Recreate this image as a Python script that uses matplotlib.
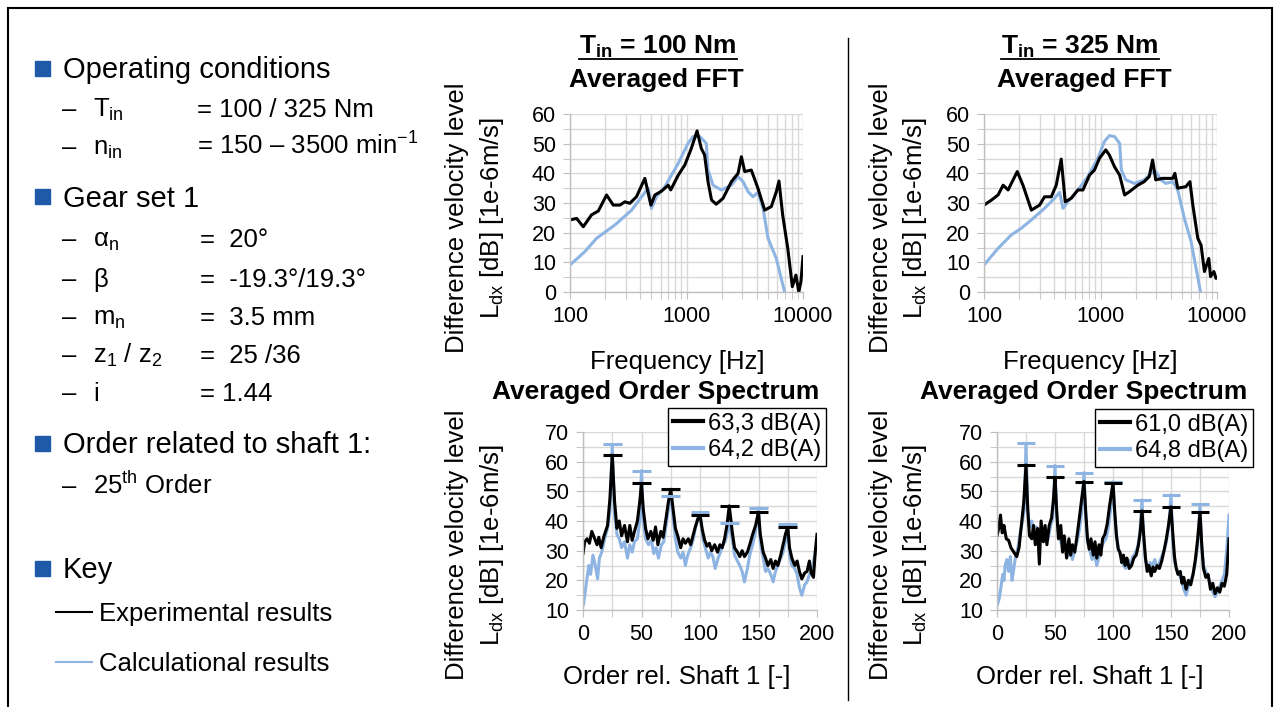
import matplotlib.pyplot as plt
from matplotlib.lines import Line2D
from matplotlib.patches import Rectangle
from matplotlib.ticker import FixedLocator, MultipleLocator, NullFormatter
import numpy as np

plt.rcParams['font.family'] = ['Liberation Sans', 'DejaVu Sans']
plt.rcParams['mathtext.fontset'] = 'custom'
plt.rcParams['mathtext.rm'] = 'Liberation Sans'
plt.rcParams['mathtext.it'] = 'Liberation Sans:italic'
plt.rcParams['mathtext.bf'] = 'Liberation Sans:bold'

# ---- data ----
# averaged FFT, T_in = 100 Nm
fft100_exp_f = [100, 114, 130, 153, 175, 206, 235, 268, 296, 326, 372, 439, 495, 535, 610, 697, 732, 850, 967,
                1100, 1232, 1340, 1430, 1530, 1640, 1800, 2060, 2430, 2770, 2960, 3160, 3600, 4100, 4690, 5350,
                5900, 6220, 6690, 7400, 8100, 8700, 9200, 9600, 10000]
fft100_exp_L = [24.3, 24.8, 22, 26, 27.3, 32.7, 29.3, 29.3, 30.4, 29.9, 32.1, 38.3, 29.3, 32.7, 34, 36, 34.4, 39.4,
                42.8, 48.4, 54.3, 48.4, 46.2, 37.2, 31, 29.6, 31.6, 37.2, 40, 45.6, 40.6, 41.1, 35, 27.6, 28.8,
                33.8, 37.4, 26, 14.7, 1.8, 5.7, 0, 3.5, 11.9]
fft100_calc_f = [100, 134, 169, 243, 338, 412, 469, 500, 552, 652, 850, 1030, 1140, 1300, 1480, 1530, 1690, 1990,
                 2430, 2770, 3060, 3380, 3720, 4100, 4540, 5010, 5900, 6950]
fft100_calc_L = [9.1, 13.6, 18.1, 22.6, 27.6, 32.1, 35, 28.2, 32.1, 35.5, 43.4, 50.1, 52.4, 52.4, 50.1, 41.1, 36,
                 34.4, 36, 38.9, 37.2, 33.8, 32.1, 33.6, 28.2, 18.1, 11.3, 0]

# averaged FFT, T_in = 325 Nm
fft325_exp_f = [100, 116, 132, 146, 161, 193, 216, 255, 300, 331, 378, 417, 460, 498, 561, 640, 707, 805, 887, 981,
                1110, 1190, 1320, 1460, 1610, 1770, 2090, 2370, 2620, 2800, 2980, 3400, 3770, 4170, 4350, 4600,
                5400, 5860, 6200, 6840, 7300, 7800, 8500, 8800, 9400, 9800, 10000]
fft325_exp_L = [29.3, 31, 32.7, 36, 34.4, 40.6, 36, 27.6, 29.3, 32.1, 32.1, 36, 44.8, 30.4, 31.6, 34.4, 34.4, 39.4,
                41.1, 45.1, 47.9, 46.2, 42.2, 39.4, 32.7, 33.8, 36, 37.2, 38.9, 44.5, 37.8, 38.3, 38.3, 38.3, 40,
                35, 35.5, 37.2, 29.3, 18.1, 15.8, 6.9, 11.3, 5.2, 6.9, 4.6, 4.8]
fft325_calc_f = [100, 132, 171, 209, 255, 331, 403, 446, 476, 525, 640, 780, 949, 1080, 1190, 1320, 1460, 1510,
                 1650, 1950, 2370, 2720, 2980, 3300, 3640, 4170, 4600, 5250, 5990, 7220]
fft325_calc_L = [9.1, 14.7, 19.2, 21.5, 24.3, 28.2, 31.6, 33.6, 28.2, 30.4, 34.4, 38.9, 45.1, 50.7, 52.7, 52.4,
                 50.1, 41.1, 37.8, 36.6, 37.8, 40, 40.6, 37.8, 36.6, 37.2, 34.4, 24.8, 17, 0]

# averaged order spectrum, T_in = 100 Nm
ord100_exp_o = [0, 1.5, 3.5, 5.5, 7.5, 10, 12, 13.5, 15.5, 18, 21, 23, 25, 27, 29, 31, 33, 35.5, 38, 40, 42, 44,
                46.5, 48.5, 50, 51.5, 53.5, 55.5, 58, 60, 62, 64, 66.5, 68.5, 71, 73, 75, 77, 79, 81, 83.5, 85.5,
                87.5, 90, 92, 94, 96, 98, 100, 102, 104, 106, 108, 110, 112.5, 115, 117, 119, 121, 123, 125,
                127.5, 129.5, 132, 134, 136, 138, 140.5, 142.5, 145, 147.5, 150, 151.5, 154, 156, 158, 160.5,
                162.5, 164.5, 166.5, 169, 171, 173, 175, 176.5, 178.5, 181, 183, 185, 187, 189.5, 191.5, 193.5,
                195, 197, 198.5, 200]
ord100_exp_L = [29, 33, 34, 32.5, 36.5, 34, 32, 34.5, 31, 35, 38.5, 47.5, 62.2, 46.5, 37.5, 40, 35, 38.5, 33, 38.5,
                33.5, 36.5, 40, 46.5, 52.7, 44, 37.5, 34, 36.5, 33.5, 38, 32, 36.5, 34.5, 41, 46.5, 50.7, 44, 37.5,
                35, 31, 34, 32.5, 34, 32, 35, 38, 40.5, 42, 37, 33.5, 31.5, 32.5, 30, 32, 29.5, 32, 31, 34, 38.5,
                45.1, 36.5, 31, 29.5, 28, 30, 28, 29.5, 32, 35.5, 38.5, 42.9, 35.5, 29.5, 27.5, 25, 27, 24, 26.5,
                25, 28.5, 32, 35.5, 38.1, 31, 27.5, 25, 26.5, 23, 20.5, 22.5, 23, 26.5, 22.5, 21, 29.5, 35.5]
ord100_calc_o = [0.5, 3, 5, 6.5, 8.5, 10.5, 12.5, 14, 16, 18.5, 21, 23, 25, 27, 29, 31, 33, 35.5, 38, 40, 42, 44,
                 46.5, 48.5, 50, 51.5, 53.5, 56, 58.5, 60.5, 62.5, 64.5, 67, 69, 71, 73, 75, 77, 79, 81, 83.5,
                 85.5, 87.5, 89.5, 92, 94, 96, 98, 100, 102.5, 104.5, 107, 109, 111, 113, 115.5, 117.5, 119.5,
                 121.5, 124, 125, 127.5, 129.5, 132, 134, 136, 138, 140.5, 142.5, 145, 147.5, 150, 151.5, 154,
                 156, 158, 160.5, 162.5, 164.5, 166.5, 169, 171, 173, 175, 176.5, 178.5, 181, 183, 185, 187, 189.5,
                 191.5, 193.5, 195.5, 197.5, 200]
ord100_calc_L = [12, 19.5, 25, 22, 28.5, 25, 20.5, 27.5, 29.5, 34, 37.5, 43, 65.8, 42, 35.5, 34, 31, 33, 27.5, 32,
                 29.5, 33, 34, 40, 57, 40, 34, 32, 33.5, 29, 31, 27.5, 32, 33, 38.5, 44, 48.5, 41, 34, 29.5, 27.5,
                 29.5, 25, 28.5, 31, 33.5, 37.5, 41, 42.9, 34, 31, 27.5, 29.5, 28, 24, 27.5, 29.5, 32, 33, 37.5,
                 39.4, 34, 28.5, 26.5, 25, 23, 19.5, 24, 28.5, 32, 36.5, 44.5, 33, 27.5, 23, 24, 22, 19.5, 23, 25,
                 27.5, 29.5, 33, 38.9, 28.5, 25, 24, 22, 17.5, 15, 18.5, 19.5, 22, 23, 27.5, 32]

# averaged order spectrum, T_in = 325 Nm
ord325_exp_o = [0, 1.5, 3, 4.5, 6, 8, 10, 12, 14.5, 17, 19, 21, 23, 25, 26.5, 28, 30, 31.5, 33, 35, 36.5, 38, 40,
                41.5, 43, 45, 47, 48.5, 50, 51.5, 53, 55, 56.5, 58, 60, 62, 63.5, 65, 67, 69, 71, 73, 75, 76.5, 78,
                79.5, 81, 83, 84.5, 86, 88, 89.5, 91, 93, 95, 97, 100, 101.5, 103, 104.5, 106, 107.5, 109, 110.5,
                112, 114, 116, 118, 120, 122, 123.5, 125, 126.5, 128, 129.5, 131, 133, 134.5, 136, 138, 140, 142,
                144, 146, 148, 150, 151.5, 153, 154.5, 156, 158, 159.5, 161, 163, 165, 167, 169, 171, 173, 175,
                176.5, 178, 180, 182, 184, 186, 188, 190, 192, 194, 196, 198, 200]
ord325_exp_L = [35, 37.5, 42, 36, 38.5, 34, 33.5, 31, 29.5, 28, 31, 38.5, 46, 58.9, 44, 35, 34, 38.5, 32, 37.5,
                25.5, 40, 33, 38.5, 32, 38.5, 41, 46.5, 54.7, 43, 34, 38.5, 29.5, 35, 27.5, 34, 28.5, 32, 29.5, 35,
                41, 47.5, 53.3, 43, 34, 30.5, 34, 28.5, 33, 27.5, 32, 28.5, 34, 35.5, 39, 45, 52.9, 43, 35, 30.5,
                29.5, 26, 28.5, 25, 27.5, 24, 25, 27.5, 28.5, 32, 36.5, 43.4, 35, 27.5, 23, 25, 21.5, 24.5, 23, 25,
                24, 26.5, 30, 34, 39, 44.8, 36, 28, 24, 22, 23, 19, 21, 17, 20, 18.5, 22, 27, 34, 42.9, 32, 24, 21,
                22, 17, 19, 15.5, 17.5, 16, 19, 18, 22, 34]
ord325_calc_o = [0.5, 2, 3.5, 5, 6, 7, 8.5, 10, 11.5, 13, 14.5, 16, 18, 20, 22, 23.5, 25, 26.5, 28, 30, 32, 34, 36,
                 38, 40, 42, 44, 46, 48, 50, 51.5, 53, 55, 57, 59, 61, 63, 65, 67, 69, 71, 73, 75, 76.5, 78, 80,
                 82, 84, 86, 88, 90, 92, 94, 96, 98, 100, 101.5, 103, 105, 107, 109, 111, 113, 115, 117, 119, 121,
                 123, 125, 126.5, 128, 130, 132, 134, 136, 138, 140, 142, 144, 146, 148, 150, 151.5, 153, 155, 157,
                 159, 161, 163, 165, 167, 169, 171, 173, 175, 176.5, 178, 180, 182, 184, 186, 188, 190, 192, 194,
                 196, 198, 200]
ord325_calc_L = [12, 14, 18, 22, 20, 25, 27, 23, 28, 20, 24, 28, 31, 36, 40, 44, 66.2, 44, 38, 40, 35, 38, 31, 36,
                 33, 37, 34, 38, 41, 58.7, 42, 36, 33, 30, 32, 28, 31, 27, 30, 33, 37, 43, 56.3, 41, 33, 30, 27, 29,
                 25, 28, 31, 33, 34, 38, 44, 53.2, 42, 35, 30, 28, 25, 24, 27, 25, 28, 29, 31, 35, 47.1, 33, 27, 24,
                 26, 25, 27, 24, 26, 28, 30, 33, 38, 48.8, 33, 26, 24, 22, 20, 17, 15, 18, 20, 22, 26, 32, 45.6, 31,
                 25, 23, 21, 19, 16, 14.5, 16, 18, 20, 22, 30, 42]

harmonics = [25, 50, 75, 100, 125, 150, 175]   # multiples of the 25th order
level_exp = ['63,3 dB(A)', '61,0 dB(A)']
level_calc = ['64,2 dB(A)', '64,8 dB(A)']

BLUE = '#8DB4E2'
GRID = '#d9d9d9'
AXC = '#bfbfbf'
FS_TICK = 15.5
FS_LAB = 18.5
FS_TITLE = 19
FS_ITEM = 18.5
FS_HEAD = 21

W, H = 1275, 707
fig = plt.figure(figsize=(W / 100, H / 100), dpi=100)


def fx(x):
    return x / W


def fy(y):
    return 1 - y / H


def add_axes_px(left, top, right, bottom):
    return fig.add_axes([left / W, 1 - bottom / H, (right - left) / W, (bottom - top) / H])


def style(ax):
    for s in ['top', 'right']:
        ax.spines[s].set_visible(False)
    for s in ['left', 'bottom']:
        ax.spines[s].set_color(AXC)
        ax.spines[s].set_linewidth(1)
    ax.tick_params(which='both', direction='out', color=AXC, length=5, labelsize=FS_TICK, pad=5)
    ax.grid(which='both', color=GRID, lw=1)
    ax.set_axisbelow(True)


def ylabel_px(x1, x2, yc):
    fig.text(fx(x1), fy(yc), 'Difference velocity level', rotation=90, fontsize=FS_LAB, ha='center', va='center')
    fig.text(fx(x2), fy(yc), r'L$_{\mathrm{dx}}$ [dB] [1e-6m/s]', rotation=90, fontsize=FS_LAB,
             ha='center', va='center')


def fft_plot(ax, fe, le, fc, lc):
    ax.plot(fc, lc, color=BLUE, lw=2.2)
    ax.plot(fe, le, color='black', lw=2.2)
    ax.set_xscale('log')
    ax.set_xlim(100, 10000)
    ax.set_ylim(0, 60)
    ax.xaxis.set_major_locator(FixedLocator([100, 1000, 10000]))
    ax.set_xticklabels(['100', '1000', '10000'])
    minors = [m * d for d in (100, 1000) for m in range(2, 10)]
    ax.xaxis.set_minor_locator(FixedLocator(minors))
    ax.xaxis.set_minor_formatter(NullFormatter())
    ax.yaxis.set_major_locator(MultipleLocator(10))
    ax.yaxis.set_minor_locator(MultipleLocator(5))
    style(ax)


def order_plot(ax, oe, le, oc, lc, lab_e, lab_c, leg_px):
    ax.plot(oc, lc, color=BLUE, lw=2.2)
    ax.plot(oe, le, color='black', lw=2.2)
    # peak level bars at the gear mesh orders
    oe, le, oc, lc = map(np.asarray, (oe, le, oc, lc))
    for h in harmonics:
        pc = lc[np.abs(oc - h) <= 2].max()
        pe = le[np.abs(oe - h) <= 2].max()
        ax.hlines(pc, h - 8, h + 8, color=BLUE, lw=2.2)
        ax.hlines(pe, h - 8, h + 8, color='black', lw=2.2)
    ax.set_xlim(0, 200)
    ax.set_ylim(10, 70)
    ax.xaxis.set_major_locator(MultipleLocator(50))
    ax.xaxis.set_minor_locator(MultipleLocator(25))
    ax.yaxis.set_major_locator(MultipleLocator(10))
    ax.yaxis.set_minor_locator(MultipleLocator(5))
    style(ax)
    handles = [Line2D([], [], color='black', lw=3), Line2D([], [], color=BLUE, lw=3)]
    leg = ax.legend(handles, [lab_e, lab_c], loc='upper left', bbox_to_anchor=(fx(leg_px[0]), fy(leg_px[1])),
                    bbox_transform=fig.transFigure, fontsize=17, frameon=True, fancybox=False, framealpha=1,
                    edgecolor='black', handlelength=1.3, handletextpad=0.2, borderpad=0.2, labelspacing=0.2,
                    borderaxespad=0)
    leg.get_frame().set_linewidth(1)


ax1 = add_axes_px(570, 114, 803, 292)
fft_plot(ax1, fft100_exp_f, fft100_exp_L, fft100_calc_f, fft100_calc_L)
ax2 = add_axes_px(984, 114, 1217, 292)
fft_plot(ax2, fft325_exp_f, fft325_exp_L, fft325_calc_f, fft325_calc_L)
ax3 = add_axes_px(583, 432, 817, 610)
order_plot(ax3, ord100_exp_o, ord100_exp_L, ord100_calc_o, ord100_calc_L, level_exp[0], level_calc[0], (668, 408))
ax4 = add_axes_px(997, 432, 1229, 610)
order_plot(ax4, ord325_exp_o, ord325_exp_L, ord325_calc_o, ord325_calc_L, level_exp[1], level_calc[1], (1095, 409))

# axis labels
ylabel_px(457, 492, 218)
ylabel_px(881, 915, 218)
ylabel_px(457, 492, 545)
ylabel_px(881, 915, 545)
for xc in (677, 1090):
    fig.text(fx(xc), fy(362), 'Frequency [Hz]', fontsize=FS_LAB, ha='center', va='center')
    fig.text(fx(xc), fy(677), 'Order rel. Shaft 1 [-]', fontsize=FS_LAB, ha='center', va='center')

# titles
t1 = fig.text(fx(658), fy(47), r'T$_{\mathbf{in}}$ = 100 Nm', fontsize=FS_TITLE, fontweight='bold',
              ha='center', va='center')
t2 = fig.text(fx(1080), fy(47), r'T$_{\mathbf{in}}$ = 325 Nm', fontsize=FS_TITLE, fontweight='bold',
              ha='center', va='center')
fig.text(fx(656), fy(80), 'Averaged FFT', fontsize=FS_TITLE, fontweight='bold', ha='center', va='center')
fig.text(fx(1084), fy(80), 'Averaged FFT', fontsize=FS_TITLE, fontweight='bold', ha='center', va='center')
fig.text(fx(656), fy(392), 'Averaged Order Spectrum', fontsize=FS_TITLE, fontweight='bold', ha='center', va='center')
fig.text(fx(1084), fy(392), 'Averaged Order Spectrum', fontsize=FS_TITLE, fontweight='bold', ha='center', va='center')

fig.canvas.draw()
for t in (t1, t2):
    bb = t.get_window_extent()
    fig.add_artist(Line2D([bb.x0 / W, bb.x1 / W], [fy(59), fy(59)], color='black', lw=1.3,
                          transform=fig.transFigure))

# divider and frame
fig.add_artist(Line2D([fx(848), fx(848)], [fy(38), fy(700)], color='black', lw=1))
fig.add_artist(Rectangle((fx(8), fy(730)), fx(1264), (730 - 8) / H, fill=False, edgecolor='black', lw=1.5,
                         transform=fig.transFigure, clip_on=False))

# left hand description
headers = [('Operating conditions', 68), ('Gear set 1', 197), ('Order related to shaft 1:', 443), ('Key', 568)]
for txt, y in headers:
    fig.add_artist(Rectangle((fx(35), fy(y + 7.5)), 15 / W, 15 / H, color='#1E5AA8', transform=fig.transFigure))
    fig.text(fx(63), fy(y + 10), txt, fontsize=FS_HEAD, va='baseline')

items = [(r'T$_{\mathrm{in}}$', '= 100 / 325 Nm', 108, 197),
         (r'n$_{\mathrm{in}}$', r'= 150 – 3500 min$^{\mathrm{-1}}$', 146, 197),
         (r'α$_{\mathrm{n}}$', '=  20°', 238, 200),
         ('β', '=  -19.3°/19.3°', 278, 200),
         (r'm$_{\mathrm{n}}$', '=  3.5 mm', 316, 200),
         (r'z$_{\mathrm{1}}$ / z$_{\mathrm{2}}$', '=  25 /36', 354, 200),
         ('i', '= 1.44', 392, 200),
         (r'25$^{\mathrm{th}}$ Order', '', 485, 200)]
for name, val, y, xv in items:
    fig.text(fx(62), fy(y + 9), '–', fontsize=FS_ITEM, va='baseline')
    fig.text(fx(93), fy(y + 9), name, fontsize=FS_ITEM, va='baseline')
    if val:
        fig.text(fx(xv), fy(y + 9), val, fontsize=FS_ITEM, va='baseline')

fig.add_artist(Line2D([fx(56), fx(92)], [fy(612), fy(612)], color='black', lw=1.5))
fig.text(fx(99), fy(621), 'Experimental results', fontsize=FS_ITEM, va='baseline')
fig.add_artist(Line2D([fx(56), fx(92)], [fy(662), fy(662)], color=BLUE, lw=1.5))
fig.text(fx(99), fy(671), 'Calculational results', fontsize=FS_ITEM, va='baseline')

plt.savefig('out.png', dpi=100)
